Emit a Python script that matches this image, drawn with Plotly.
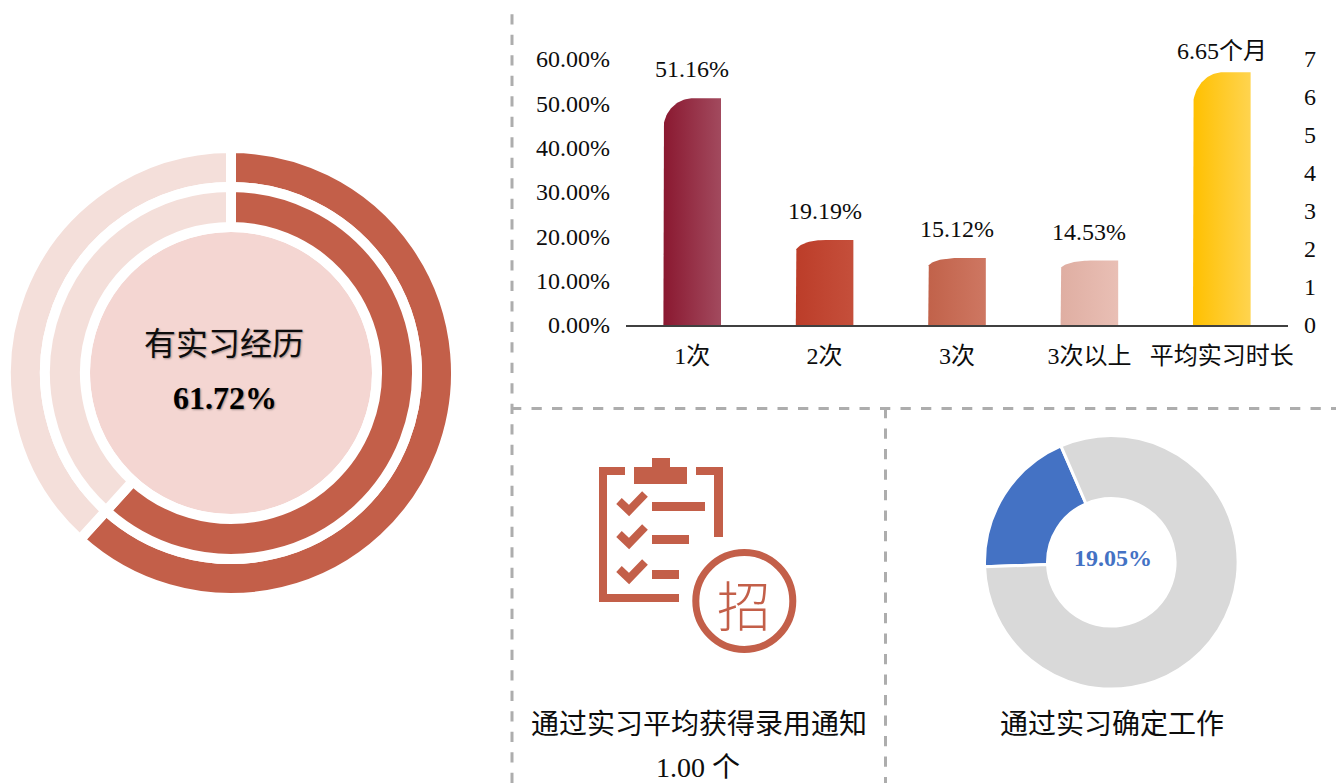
import numpy as np
import plotly.graph_objects as go

# ---------- data ----------
categories = ["1次", "2次", "3次", "3次以上", "平均实习时长"]
share_values = [51.16, 19.19, 15.12, 14.53]
share_labels = ["51.16%", "19.19%", "15.12%", "14.53%"]
month_values = [6.65]
month_labels = ["6.65个月"]
internship_share = [61.72, 38.28]
confirmed_share = [19.05, 80.95]

# ---------- styles ----------
W, H = 1336, 783
SERIF = "Liberation Serif, Noto Sans CJK SC, serif"
CJK = "Noto Sans CJK SC, sans-serif"
RUST = "#C35F49"
PALE = "#F4DFDA"
DISK = "#F4D6D2"
INK = "#0D0D0D"
bar_gradients = [("#8A1830", "#A24A5E"), ("#BC3D29", "#C54F3B"), ("#C1624A", "#CE7762"),
                 ("#DFAEA2", "#E9BFB5"), ("#FFC000", "#FFD44F")]
BAR_W = 0.435


def px(x):
    return x / W


def py(y):
    return 1 - y / H


def domain(cx, cy, r):
    return dict(x=[px(cx - r), px(cx + r)], y=[py(cy + r), py(cy - r)])


def bar_outline(i, v):
    """Bar outline in axis units with a rounded top-left corner."""
    left, right = i - BAR_W / 2, i + BAR_W / 2
    rx, ry = BAR_W * 0.52, v * 0.135
    t = np.linspace(0, np.pi / 2, 25)
    xs = left + rx * (1 - np.cos(t))
    ys = v - ry * (1 - np.sin(t))
    return ([left, *xs, right, right, left], [0, *ys, v, 0, 0])


fig = go.Figure()

# ---------- left rings ----------
fig.add_trace(go.Pie(values=internship_share, sort=False, direction="clockwise", rotation=0,
                     domain=domain(231, 373, 225), hole=186 / 225, textinfo="none", hoverinfo="skip",
                     showlegend=False, marker=dict(colors=[RUST, PALE], line=dict(color="white", width=10))))
fig.add_trace(go.Pie(values=internship_share, sort=False, direction="clockwise", rotation=0,
                     domain=domain(231, 373, 186), hole=146 / 186, textinfo="none", hoverinfo="skip",
                     showlegend=False, marker=dict(colors=[RUST, PALE], line=dict(color="white", width=10))))

# ---------- right donut ----------
fig.add_trace(go.Pie(values=confirmed_share, sort=False, direction="clockwise", rotation=268,
                     domain=domain(1111.3, 562.3, 126.8), hole=63.8 / 126.8, textinfo="none", hoverinfo="skip",
                     showlegend=False, marker=dict(colors=["#4472C4", "#D9D9D9"], line=dict(color="white", width=3))))

# ---------- bars ----------
for i, v in enumerate(share_values):
    xs, ys = bar_outline(i, v)
    fig.add_trace(go.Scatter(x=xs, y=ys, mode="lines", fill="toself", line=dict(width=0), hoverinfo="skip",
                             showlegend=False, xaxis="x", yaxis="y",
                             fillgradient=dict(type="horizontal",
                                               colorscale=[[0, bar_gradients[i][0]], [1, bar_gradients[i][1]]])))
for j, v in enumerate(month_values):
    i = len(share_values) + j
    xs, ys = bar_outline(i, v)
    fig.add_trace(go.Scatter(x=xs, y=ys, mode="lines", fill="toself", line=dict(width=0), hoverinfo="skip",
                             showlegend=False, xaxis="x", yaxis="y2",
                             fillgradient=dict(type="horizontal",
                                               colorscale=[[0, bar_gradients[i][0]], [1, bar_gradients[i][1]]])))

# ---------- annotations ----------
ann = []


def text(x, y, s, size=28, color=INK, family=SERIF, weight=None, shadow=None):
    font = dict(family=family, size=size, color=color)
    if weight:
        font["weight"] = weight
    if shadow:
        font["shadow"] = shadow
    # placed on hidden page-sized axes so that texts near the edge do not push the margins
    ann.append(dict(x=x, y=y, xref="x2", yref="y3", text=s, showarrow=False,
                    xanchor="center", yanchor="middle", font=font))


for i, (v, s) in enumerate(zip(share_values, share_labels)):
    ann.append(dict(x=i, y=v, xref="x", yref="y", text=s, showarrow=False, yshift=29,
                    xanchor="center", yanchor="middle", font=dict(family=SERIF, size=24, color=INK)))
for j, (v, s) in enumerate(zip(month_values, month_labels)):
    ann.append(dict(x=len(share_values) + j, y=v, xref="x", yref="y2", text=s, showarrow=False, yshift=21,
                    xanchor="center", yanchor="middle", font=dict(family=SERIF, size=24, color=INK)))

shadow = "1px 1px 2px rgba(0,0,0,0.35)"
text(224, 344, "有实习经历", size=32, shadow=shadow)
text(225, 398, "61.72%", size=32, weight="bold", shadow=shadow, color="#000000")
text(1112.5, 558, "19.05%", size=24, weight="bold", color="#4472C4")
text(698.5, 724, "通过实习平均获得录用通知", size=28)
text(698, 767, "1.00 个", size=28)
text(1112, 724, "通过实习确定工作", size=28)
text(744, 603, "招", size=54, color=RUST, family=CJK, weight=300)

# ---------- decorative shapes ----------
shapes = [dict(type="circle", xref="paper", yref="paper", x0=px(231 - 141), x1=px(231 + 141),
               y0=py(373 + 141), y1=py(373 - 141), fillcolor=DISK, line=dict(width=0), layer="below")]


def dash(x0, y0, x1, y1):
    shapes.append(dict(type="line", xref="paper", yref="paper", x0=px(x0), y0=py(y0), x1=px(x1), y1=py(y1),
                       line=dict(color="#ADADAD", width=3, dash="10.3px,10.2px")))


dash(512, 14.3, 512, 783)
dash(511, 408.5, 1336, 408.5)
dash(885.5, 408, 885.5, 783)


def rect(x0, y0, x1, y1):
    shapes.append(dict(type="rect", xref="paper", yref="paper", x0=px(x0), y0=py(y0), x1=px(x1), y1=py(y1),
                       fillcolor=RUST, line=dict(width=0)))


# clipboard icon
rect(599, 467, 625, 475)
rect(599, 467, 607, 602)
rect(599, 594, 679, 602)
rect(696, 467, 723, 475)
rect(714, 467, 723, 537)
rect(634, 467, 687, 484)
rect(652, 458, 670, 467)
rect(652, 502, 705, 511)
rect(652, 535, 689, 544)
rect(652, 570, 679, 579)
for dy in (0, 33, 68):
    pts = [(619, 501 + dy), (629, 510.5 + dy), (645, 494 + dy)]
    path = "M " + " L ".join(f"{px(a):.5f},{py(b):.5f}" for a, b in pts)
    shapes.append(dict(type="path", xref="paper", yref="paper", path=path, line=dict(color=RUST, width=8)))
shapes.append(dict(type="circle", xref="paper", yref="paper", x0=px(744.3 - 48.5), x1=px(744.3 + 48.5),
                   y0=py(601 + 48.5), y1=py(601 - 48.5), line=dict(color=RUST, width=7)))

# ---------- layout ----------
plot_dom = [py(325), py(59)]
fig.update_layout(
    width=W, height=H, margin=dict(l=0, r=0, t=0, b=0), autosize=False,
    paper_bgcolor="white", plot_bgcolor="rgba(0,0,0,0)",
    xaxis=dict(domain=[px(626), px(1288)], range=[-0.5, 4.5], tickmode="array",
               tickvals=list(range(len(categories))), ticktext=categories, showgrid=False, zeroline=False,
               showline=True, linecolor="#404040", linewidth=2, ticks="", ticklabelstandoff=8,
               tickfont=dict(family=SERIF, size=24, color=INK), anchor="y", fixedrange=True, automargin=False),
    yaxis=dict(domain=plot_dom, range=[0, 60], dtick=10, tickformat=".2f", ticksuffix="%", showgrid=False,
               zeroline=False, showline=False, ticks="", ticklabelstandoff=15,
               tickfont=dict(family=SERIF, size=24, color=INK), anchor="x", fixedrange=True, automargin=False),
    yaxis2=dict(domain=plot_dom, range=[0, 7], dtick=1, side="right", overlaying="y", showgrid=False,
                zeroline=False, showline=False, ticks="", ticklabelstandoff=15,
                tickfont=dict(family=SERIF, size=24, color=INK), anchor="x", fixedrange=True, automargin=False),
    xaxis2=dict(domain=[0, 1], range=[0, W], visible=False, anchor="y3", fixedrange=True, automargin=False),
    yaxis3=dict(domain=[0, 1], range=[H, 0], visible=False, anchor="x2", fixedrange=True, automargin=False),
    annotations=ann, shapes=shapes, showlegend=False,
)

fig.write_html("out.html", config={"displayModeBar": False},
               post_script="document.body.style.margin='0';document.body.style.overflow='hidden';")
